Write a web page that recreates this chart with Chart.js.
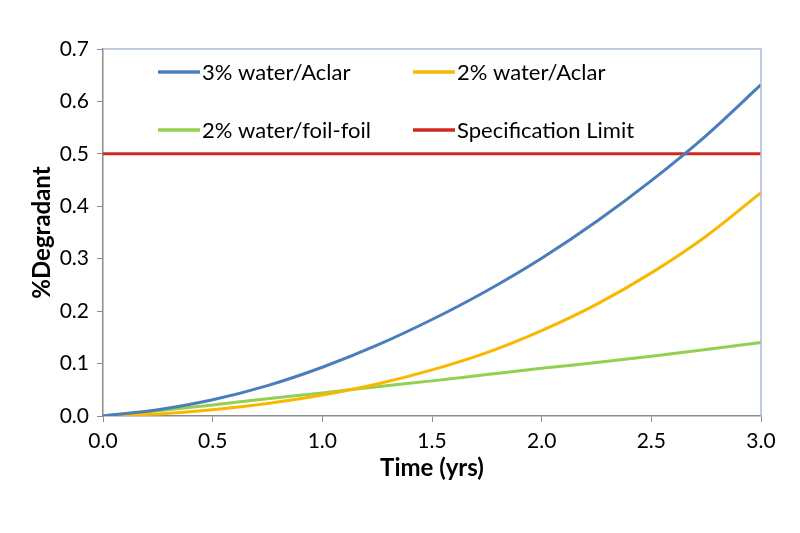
<!DOCTYPE html>
<html>
<head>
<meta charset="utf-8">
<script src="https://cdn.jsdelivr.net/npm/chart.js@4"></script>
<style>
  body { margin: 0; background: #fff; }
  #degChart { display: block; }
</style>
</head>
<body>
<canvas id="degChart" width="800" height="533"></canvas>
<script>
// time points (yrs)
const years = [0, 0.25, 0.5, 0.75, 1.0, 1.25, 1.5, 1.75, 2.0, 2.25, 2.5, 2.75, 3.0]

// %degradant
const water3Aclar = [0, 0.012, 0.031, 0.058, 0.093, 0.135, 0.184, 0.239, 0.301, 0.371, 0.449, 0.535, 0.632]
const water2Aclar = [0, 0.004, 0.012, 0.024, 0.040, 0.061, 0.088, 0.121, 0.163, 0.213, 0.273, 0.343, 0.426]
const water2Foil = [0, 0.01, 0.021, 0.033, 0.044, 0.056, 0.067, 0.079, 0.091, 0.102, 0.114, 0.127, 0.14]
const specLimit = 0.5

const xTicks = [0, 0.5, 1.0, 1.5, 2.0, 2.5, 3.0]
const yTicks = [0, 0.1, 0.2, 0.3, 0.4, 0.5, 0.6, 0.7]

const FONT = 'Lato, "Open Sans", sans-serif'
const AXIS_GREY = '#8c8c8c'

const toPoints = (vals) => vals.map((v, i) => ({ x: years[i], y: v }))

const data = {
    datasets: [
        {
            label: '3% water/Aclar',
            data: toPoints(water3Aclar),
            borderColor: '#4a7ebb'
        },
        {
            label: '2% water/Aclar',
            data: toPoints(water2Aclar),
            borderColor: '#f9b800'
        },
        {
            label: '2% water/foil-foil',
            data: toPoints(water2Foil),
            borderColor: '#92d050'
        },
        {
            label: 'Specification Limit',
            data: [{ x: years[0], y: specLimit }, { x: years[years.length - 1], y: specLimit }],
            borderColor: '#d0281e'
        }
    ]
}

// legend in 2 columns inside the plot, plus the light frame on top/right
const excelBits = {
    id: 'excelBits',
    afterDraw(chart) {
        const { ctx, chartArea } = chart
        ctx.save()
        ctx.strokeStyle = '#a9bbd6'
        ctx.lineWidth = 1.5
        ctx.beginPath()
        ctx.moveTo(chartArea.left, chartArea.top)
        ctx.lineTo(chartArea.right, chartArea.top)
        ctx.lineTo(chartArea.right, chartArea.bottom)
        ctx.stroke()

        const cols = [chartArea.left + 55, chartArea.left + 310]
        const rows = [chartArea.top + 23, chartArea.top + 81]
        ctx.font = '22px ' + FONT
        ctx.textBaseline = 'middle'
        ctx.fillStyle = '#000'
        chart.data.datasets.forEach((ds, i) => {
            const x = cols[i % 2]
            const y = rows[Math.floor(i / 2)]
            ctx.strokeStyle = ds.borderColor
            ctx.lineWidth = 3.5
            ctx.beginPath()
            ctx.moveTo(x, y)
            ctx.lineTo(x + 42, y)
            ctx.stroke()
            ctx.fillText(ds.label, x + 44, y + 1)
        })
        ctx.restore()
    }
}

const config = {
    type: 'line',
    data: data,
    options: {
        responsive: false,
        animation: false,
        layout: { padding: { top: 49, right: 39, left: 0, bottom: 0 } },
        elements: {
            point: { radius: 0 },
            line: { borderWidth: 3, tension: 0.4, cubicInterpolationMode: 'monotone' }
        },
        scales: {
            x: {
                type: 'linear',
                min: 0,
                max: 3,
                afterFit: (s) => { s.height = 117 },
                afterBuildTicks: (s) => { s.ticks = xTicks.map(v => ({ value: v })) },
                ticks: {
                    callback: (v) => v.toFixed(1),
                    color: '#000',
                    padding: 7,
                    font: { family: FONT, size: 21 }
                },
                grid: { drawOnChartArea: false, color: AXIS_GREY, tickLength: 6 },
                border: { color: AXIS_GREY, width: 1.5 },
                title: {
                    display: true,
                    text: 'Time (yrs)',
                    color: '#000',
                    font: { family: FONT, size: 24, weight: 'bold' },
                    padding: { top: 0, bottom: 50 }
                }
            },
            y: {
                min: 0,
                max: 0.7,
                afterFit: (s) => { s.width = 103 },
                afterBuildTicks: (s) => { s.ticks = yTicks.map(v => ({ value: v })) },
                ticks: {
                    callback: (v) => v.toFixed(1),
                    color: '#000',
                    padding: 8,
                    font: { family: FONT, size: 21 }
                },
                grid: { drawOnChartArea: false, color: AXIS_GREY, tickLength: 6 },
                border: { color: AXIS_GREY, width: 1.5 },
                title: {
                    display: true,
                    text: '%Degradant',
                    color: '#000',
                    font: { family: FONT, size: 24, weight: 'bold' },
                    padding: { top: 28, bottom: 0 }
                }
            }
        },
        plugins: {
            legend: { display: false },
            tooltip: { enabled: false }
        }
    },
    plugins: [excelBits]
}

const degChart = new Chart(document.getElementById('degChart'), config)
</script>
</body>
</html>
